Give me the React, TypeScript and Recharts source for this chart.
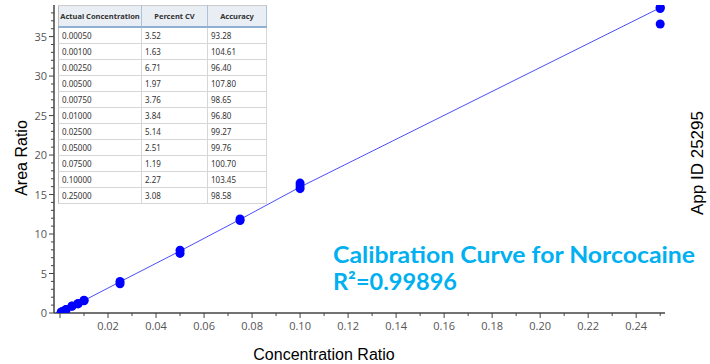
import React from "react";
import { ScatterChart, Scatter, XAxis, YAxis, ZAxis } from "recharts";

// calibration replicates
const sampleConc = [0.0005, 0.0005, 0.001, 0.001, 0.0025, 0.0025, 0.005, 0.005, 0.0075, 0.0075, 0.01, 0.01, 0.025, 0.025, 0.05, 0.05, 0.075, 0.075, 0.1, 0.1, 0.1, 0.25, 0.25, 0.25];
const sampleArea = [0.06, 0.1, 0.15, 0.2, 0.4, 0.45, 0.85, 0.9, 1.15, 1.2, 1.55, 1.62, 3.7, 4.0, 7.55, 7.95, 11.7, 11.9, 15.75, 16.1, 16.45, 36.6, 38.55, 38.7];

// fitted curve
const fitConc = [0, 0.01, 0.025, 0.05, 0.075, 0.1, 0.25];
const fitArea = [0, 1.58, 3.95, 7.85, 11.85, 15.95, 38.65];

// table
const tableConc = ["0.00050", "0.00100", "0.00250", "0.00500", "0.00750", "0.01000", "0.02500", "0.05000", "0.07500", "0.10000", "0.25000"];
const tableCV = ["3.52", "1.63", "6.71", "1.97", "3.76", "3.84", "5.14", "2.51", "1.19", "2.27", "3.08"];
const tableAccuracy = ["93.28", "104.61", "96.40", "107.80", "98.65", "96.80", "99.27", "99.76", "100.70", "103.45", "98.58"];

const xTicks = Array.from({ length: 26 }, (_, i) => +(i * 0.01).toFixed(2));
const yTicks = Array.from({ length: 39 }, (_, i) => i);

const samples = sampleConc.map((x, i) => ({ x, y: sampleArea[i] }));
const fit = fitConc.map((x, i) => ({ x, y: fitArea[i] }));

const axisColor = "#444";
const labelColor = "#555";

function XTick(props: any) {
  const { x, y, payload, index } = props;
  const major = index % 2 === 0;
  return (
    <g>
      <line x1={x} x2={x} y1={y} y2={y + (major ? 5 : 3)} stroke={axisColor} />
      {major && payload.value > 0 && (
        <text x={x} y={y + 17} textAnchor="middle" fontSize={11} fill={labelColor} fontFamily="Open Sans">
          {payload.value.toFixed(2)}
        </text>
      )}
    </g>
  );
}

function YTick(props: any) {
  const { x, y, payload } = props;
  const major = payload.value % 5 === 0;
  return (
    <g>
      <line x1={x} x2={x - (major ? 5 : 3)} y1={y} y2={y} stroke={axisColor} />
      {major && (
        <text x={x - 7} y={y + 4} textAnchor="end" fontSize={11} fill={labelColor} fontFamily="Open Sans">
          {payload.value}
        </text>
      )}
    </g>
  );
}

const noShape = () => <g />;

const cell: React.CSSProperties = {
  borderRight: "1px solid #d6d6d6",
  borderBottom: "1px solid #d6d6d6",
  padding: "0 0 0 3px",
  height: 15,
  textAlign: "left",
};

export default function App() {
  return (
    <div style={{ position: "fixed", left: 0, top: 0, width: 710, height: 364, background: "#fff" }}>
      <ScatterChart width={710} height={364} margin={{ top: 5, right: 45, bottom: 21, left: 0 }}>
        <XAxis
          type="number"
          dataKey="x"
          domain={[-0.0025, 0.252]}
          ticks={xTicks}
          interval={0}
          allowDataOverflow
          height={30}
          tickLine={false}
          tickSize={0}
          tickMargin={0}
          stroke={axisColor}
          strokeWidth={1.5}
          tick={<XTick />}
        />
        <YAxis
          type="number"
          dataKey="y"
          domain={[0, 39]}
          ticks={yTicks}
          interval={0}
          allowDataOverflow
          width={54}
          tickLine={false}
          tickSize={0}
          tickMargin={0}
          stroke={axisColor}
          strokeWidth={1.5}
          tick={<YTick />}
        />
        <ZAxis range={[45, 45]} />
        <Scatter data={fit} line={{ stroke: "#4d4dff", strokeWidth: 1 }} shape={noShape} isAnimationActive={false} />
        <Scatter data={samples} fill="#0000ff" isAnimationActive={false} />
      </ScatterChart>

      <table
        style={{
          position: "absolute",
          left: 58,
          top: 5,
          borderCollapse: "collapse",
          fontFamily: "Noto Sans",
          fontSize: 8,
          color: "#333",
          background: "#fff",
          borderLeft: "1px solid #bbb",
          borderTop: "1px solid #ccc",
        }}
      >
        <thead>
          <tr style={{ background: "#e9eef4" }}>
            {["Actual Concentration", "Percent CV", "Accuracy"].map((h, i) => (
              <th
                key={h}
                style={{
                  ...cell,
                  width: [82, 65, 58][i],
                  height: 20,
                  fontWeight: 700,
                  fontSize: 7.5,
                  textAlign: "center",
                  borderBottom: "2px solid #8fb0d2",
                  borderRight: "1px solid #aac2da",
                  padding: 0,
                }}
              >
                {h}
              </th>
            ))}
          </tr>
        </thead>
        <tbody>
          {tableConc.map((c, i) => (
            <tr key={c}>
              <td style={cell}>{c}</td>
              <td style={cell}>{tableCV[i]}</td>
              <td style={cell}>{tableAccuracy[i]}</td>
            </tr>
          ))}
        </tbody>
      </table>

      <svg width={710} height={364} style={{ position: "absolute", left: 0, top: 0, pointerEvents: "none" }}>
        <text transform="translate(27,158) rotate(-90)" textAnchor="middle" fontSize={16} fontFamily="Liberation Sans" fill="#000">
          Area Ratio
        </text>
        <text x={324} y={360} textAnchor="middle" fontSize={16} fontFamily="Liberation Sans" fill="#000">
          Concentration Ratio
        </text>
        <text transform="translate(703,163) rotate(-90)" textAnchor="middle" fontSize={17} fontFamily="Liberation Sans" fill="#000">
          App ID 25295
        </text>
        <text x={333} y={263} fontSize={23.5} fontWeight={700} fontFamily="Lato" fill="#00b0f0" textLength={362} lengthAdjust="spacingAndGlyphs">
          Calibration Curve for Norcocaine
        </text>
        <text x={333} y={290} fontSize={23.5} fontWeight={700} fontFamily="Lato" fill="#00b0f0" textLength={124} lengthAdjust="spacingAndGlyphs">
          R²=0.99896
        </text>
      </svg>
    </div>
  );
}
